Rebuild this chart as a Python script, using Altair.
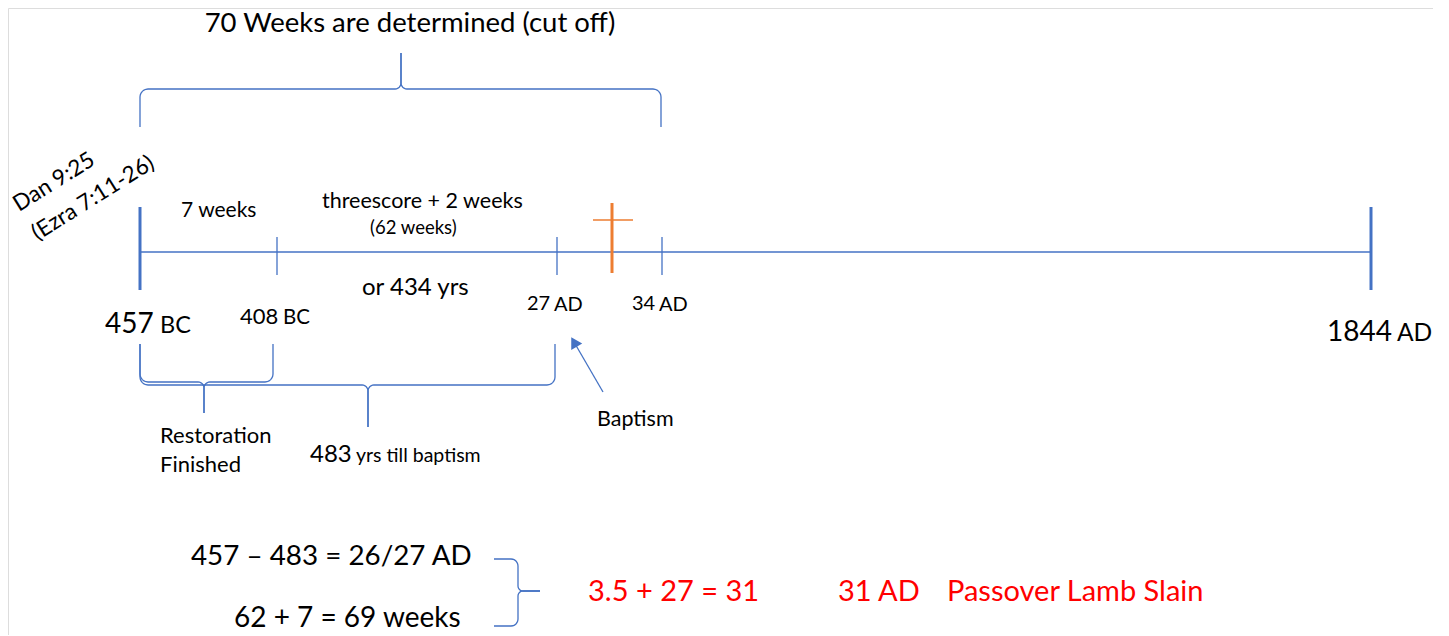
import math
import altair as alt
import pandas as pd

# ---------------- data ----------------
BLUE = "#4472C4"
ORANGE = "#ED7D31"
RED = "#FF0000"

# timeline (positions of the dates along the drawn line)
timeline_start = 140
timeline_end = 1371
timeline_y = 252
tick_x = [140, 277, 557, 662, 1371]
tick_top = [207, 237, 237, 237, 207]
tick_bottom = [290, 275, 275, 275, 290]
tick_width = [3, 1.3, 1.3, 1.3, 3]

# cross (crucifixion marker)
cross_x = 612
cross_top, cross_bottom = 203, 273
cross_bar_x = [593, 633]
cross_bar_y = 220

# braces: (x_start, x_end, x_tip, y_end, y_bar, y_tip)
braces_h = [
    (140, 661, 401, 127, 89, 53),
    (140, 273, 204, 344, 382, 413),
    (140, 555, 368, 344, 385, 427),
]
# vertical brace: (y_start, y_end, y_tip, x_end, x_bar, x_tip)
braces_v = [(559, 626, 591, 494, 518, 540)]

# arrow to "Baptism"
arrow_from = (603, 392)
arrow_to = (574, 342)

# texts
txt = [
    # text, x, y, size, color, align, angle
    ("70 Weeks are determined (cut off)", 410, 24, 27.5, "black", "center", 0),
    ("Dan 9:25", 54, 182, 22.5, "black", "center", 328),
    ("(Ezra 7:11-26)", 93, 198, 22.5, "black", "center", 328),
    ("7 weeks", 181, 211, 21, "black", "left", 0),
    ("threescore + 2 weeks", 322, 202, 21.5, "black", "left", 0),
    ("(62 weeks)", 370, 228, 18.5, "black", "left", 0),
    ("or 434 yrs", 362, 288, 24, "black", "left", 0),
    ("457", 105, 325, 28, "black", "left", 0),
    ("BC", 160, 326, 23.5, "black", "left", 0),
    ("408", 240, 317, 22, "black", "left", 0),
    ("BC", 283, 318, 20.5, "black", "left", 0),
    ("27", 527, 304, 20, "black", "left", 0),
    ("AD", 554, 305, 20, "black", "left", 0),
    ("34", 632, 304, 20, "black", "left", 0),
    ("AD", 659, 305, 20, "black", "left", 0),
    ("1844", 1327, 333, 28, "black", "left", 0),
    ("AD", 1397, 334, 24.5, "black", "left", 0),
    ("Restoration", 160, 436, 22, "black", "left", 0),
    ("Finished", 160, 465, 22, "black", "left", 0),
    ("483", 310, 455, 24, "black", "left", 0),
    ("yrs till baptism", 356, 456, 19.5, "black", "left", 0),
    ("Baptism", 597, 420, 21.5, "black", "left", 0),
    ("457 \u2013 483 = 26/27 AD", 191, 557, 27.8, "black", "left", 0),
    ("62 + 7 = 69 weeks", 234, 619, 28, "black", "left", 0),
    ("3.5 + 27 = 31", 588, 592, 29, RED, "left", 0),
    ("31 AD", 838, 592, 29, RED, "left", 0),
    ("Passover Lamb Slain", 947, 592, 29, RED, "left", 0),
]

# ---------------- geometry helpers ----------------
W, H = 1425, 627
X0, Y0 = 8, 8


def arc(cx, cy, r, a0, a1, n=6):
    return [(cx + r * math.cos(a0 + (a1 - a0) * i / n), cy + r * math.sin(a0 + (a1 - a0) * i / n)) for i in range(n + 1)]


def brace_half(x0, xm, yend, ybar, ytip, r1=8, r2=6):
    s = 1 if ytip > ybar else -1  # tip direction
    d = 1 if xm > x0 else -1
    pts = [(x0, yend), (x0, ybar - s * r1)]
    cx, cy = x0 + d * r1, ybar - s * r1
    a_start = math.atan2(0, -d)
    a_end = math.atan2(s, 0)
    da = (a_end - a_start + math.pi) % (2 * math.pi) - math.pi
    pts += arc(cx, cy, r1, a_start, a_start + da)
    pts.append((xm - d * r2, ybar))
    cx, cy = xm - d * r2, ybar + s * r2
    a_start = math.atan2(-s, 0)
    a_end = math.atan2(0, d)
    da = (a_end - a_start + math.pi) % (2 * math.pi) - math.pi
    pts += arc(cx, cy, r2, a_start, a_start + da)
    pts.append((xm, ytip))
    return pts


rows = []
gid = 0
for (xa, xb, xm, ye, yb, yt) in braces_h:
    for xs_ in (xa, xb):
        for i, (px, py) in enumerate(brace_half(xs_, xm, ye, yb, yt)):
            rows.append({"g": gid, "o": i, "x": px, "y": py})
        gid += 1
for (ya, yb2, ym, xe, xbar, xt) in braces_v:
    for ys_ in (ya, yb2):
        for i, (py, px) in enumerate(brace_half(ys_, ym, xe, xbar, xt, r1=7, r2=5)):
            rows.append({"g": gid, "o": i, "x": px, "y": py})
        gid += 1
rows.append({"g": gid, "o": 0, "x": arrow_from[0], "y": arrow_from[1]})
rows.append({"g": gid, "o": 1, "x": arrow_to[0], "y": arrow_to[1]})
brace_df = pd.DataFrame(rows)

xs = alt.Scale(domain=[X0, X0 + W])
ys = alt.Scale(domain=[Y0, Y0 + H], reverse=True)


def X(f="x"):
    return alt.X(f + ":Q", scale=xs, axis=None)


def Y(f="y"):
    return alt.Y(f + ":Q", scale=ys, axis=None)


braces = alt.Chart(brace_df).mark_line(color=BLUE, strokeWidth=1.3).encode(
    x=X(), y=Y(), detail="g:N", order="o:Q"
)

main_line = alt.Chart(pd.DataFrame({"x": [timeline_start], "x2": [timeline_end], "y": [timeline_y]})).mark_rule(
    color=BLUE, strokeWidth=1.5
).encode(x=X(), x2="x2:Q", y=Y())

ticks = alt.Chart(pd.DataFrame({"x": tick_x, "y": tick_top, "y2": tick_bottom, "w": tick_width})).mark_rule(
    color=BLUE
).encode(x=X(), y=Y(), y2="y2:Q", strokeWidth=alt.StrokeWidth("w:Q", scale=None, legend=None))

cross_v = alt.Chart(pd.DataFrame({"x": [cross_x], "y": [cross_top], "y2": [cross_bottom]})).mark_rule(
    color=ORANGE, strokeWidth=3
).encode(x=X(), y=Y(), y2="y2:Q")
cross_h = alt.Chart(pd.DataFrame({"x": [cross_bar_x[0]], "x2": [cross_bar_x[1]], "y": [cross_bar_y]})).mark_rule(
    color=ORANGE, strokeWidth=1.5
).encode(x=X(), x2="x2:Q", y=Y())

ang = math.degrees(math.atan2(arrow_to[0] - arrow_from[0], -(arrow_to[1] - arrow_from[1]))) % 360
head = alt.Chart(pd.DataFrame({"x": [arrow_to[0]], "y": [arrow_to[1]]})).mark_point(
    shape="triangle-up", filled=True, color=BLUE, size=160, opacity=1, angle=ang
).encode(x=X(), y=Y())

tdf = pd.DataFrame(txt, columns=["text", "x", "y", "size", "color", "align", "angle"])
layers = []
for al in ["left", "center"]:
    sub = tdf[tdf["align"] == al]
    layers.append(
        alt.Chart(sub).mark_text(align=al, baseline="middle", font="Lato").encode(
            x=X(), y=Y(), text="text:N",
            size=alt.Size("size:Q", scale=None, legend=None),
            color=alt.Color("color:N", scale=None, legend=None),
            angle=alt.Angle("angle:Q", scale=None, legend=None),
        )
    )

chart = alt.layer(main_line, ticks, cross_v, cross_h, braces, head, *layers).properties(
    width=W, height=H, padding=0, autosize=alt.AutoSizeParams(type="none")
).configure_view(stroke=None).configure(background="white")

chart.save("out.html", embed_options={"renderer": "svg", "actions": False})
